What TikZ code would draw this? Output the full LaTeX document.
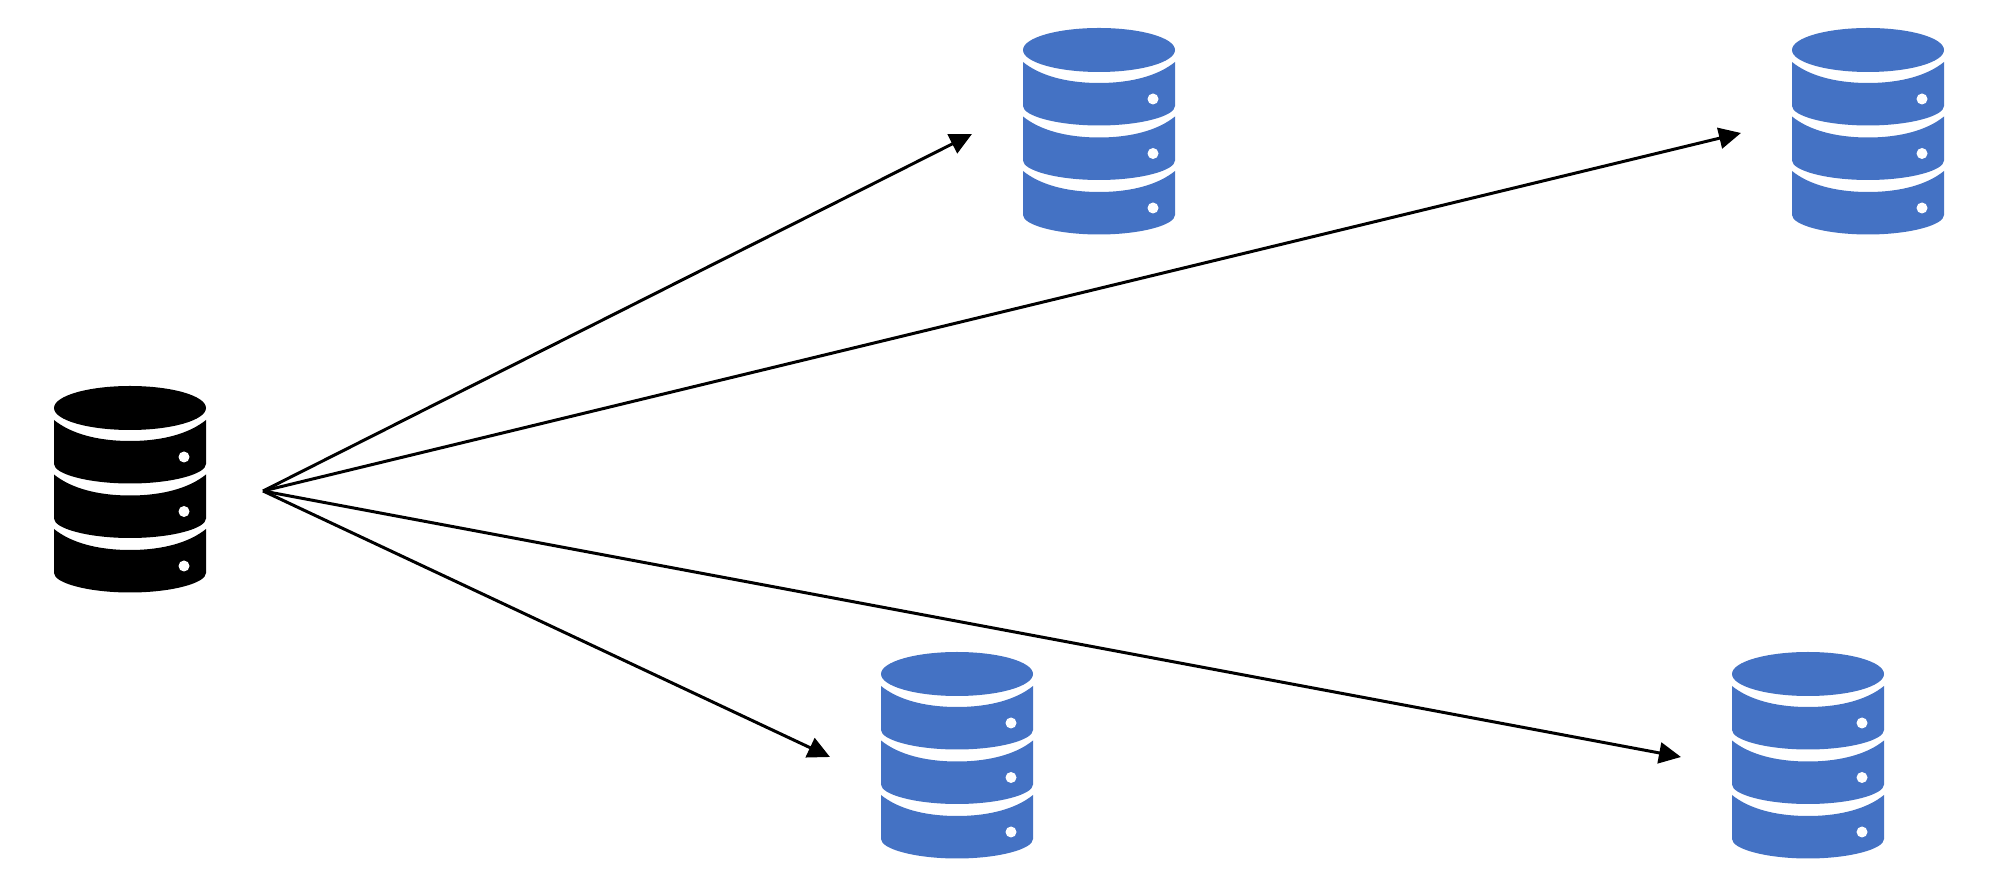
\documentclass[tikz,border=0pt]{standalone}
\usepackage{tikz}
\usetikzlibrary{arrows.meta, positioning}
\definecolor{dbblue}{RGB}{68, 114, 196}

\begin{document}
\begin{tikzpicture}[
  x=0.01cm, y=-0.01cm,
  dbbox/.style={minimum width=1.52cm, minimum height=2.06cm, inner sep=0pt, outer sep=0pt},
  link/.style={-{Triangle[length=0.22cm, width=0.21cm]}, line width=0.85pt, black},
  pics/dbicon/.style={code={
    \fill[#1] (76, 22) ellipse[x radius=76, y radius=22];
    \foreach \dy in {0, 54.5, 109} {
      \fill[#1] (0, 34+\dy) .. controls (16, 47+\dy) and (42, 55+\dy) .. (76, 55+\dy)
        .. controls (110, 55+\dy) and (136, 47+\dy) .. (152, 34+\dy) -- (152, 78+\dy)
        .. controls (152, 88+\dy) and (118, 97.5+\dy) .. (76, 97.5+\dy)
        .. controls (34, 97.5+\dy) and (0, 88+\dy) .. (0, 78+\dy) -- cycle;
      \fill[white] (130, 71+\dy) circle[radius=5.5];
    }
  }}
]
  \useasboundingbox (0, 0) rectangle (2000, 886);

  \node[dbbox] (source) at (130, 489) {};
  \node[dbbox] (dbA) at (1099, 131) {};
  \node[dbbox] (dbB) at (1868, 131) {};
  \node[dbbox] (dbC) at (957, 755) {};
  \node[dbbox] (dbD) at (1808, 755) {};

  \pic at (54, 386) {dbicon=black};
  \pic at (1023, 28) {dbicon=dbblue};
  \pic at (1792, 28) {dbicon=dbblue};
  \pic at (881, 652) {dbicon=dbblue};
  \pic at (1732, 652) {dbicon=dbblue};

  \coordinate (hub) at ([shift={(57, 2)}]source.east);
  \coordinate (tipA) at ([shift={(-51, 3)}]dbA.west);
  \coordinate (tipB) at ([shift={(-51, 2)}]dbB.west);
  \coordinate (tipC) at ([shift={(-51, 2)}]dbC.west);
  \coordinate (tipD) at ([shift={(-51, 2)}]dbD.west);

  \draw[link] (hub) -- (tipA);
  \draw[link] (hub) -- (tipB);
  \draw[link] (hub) -- (tipC);
  \draw[link] (hub) -- (tipD);
\end{tikzpicture}
\end{document}
